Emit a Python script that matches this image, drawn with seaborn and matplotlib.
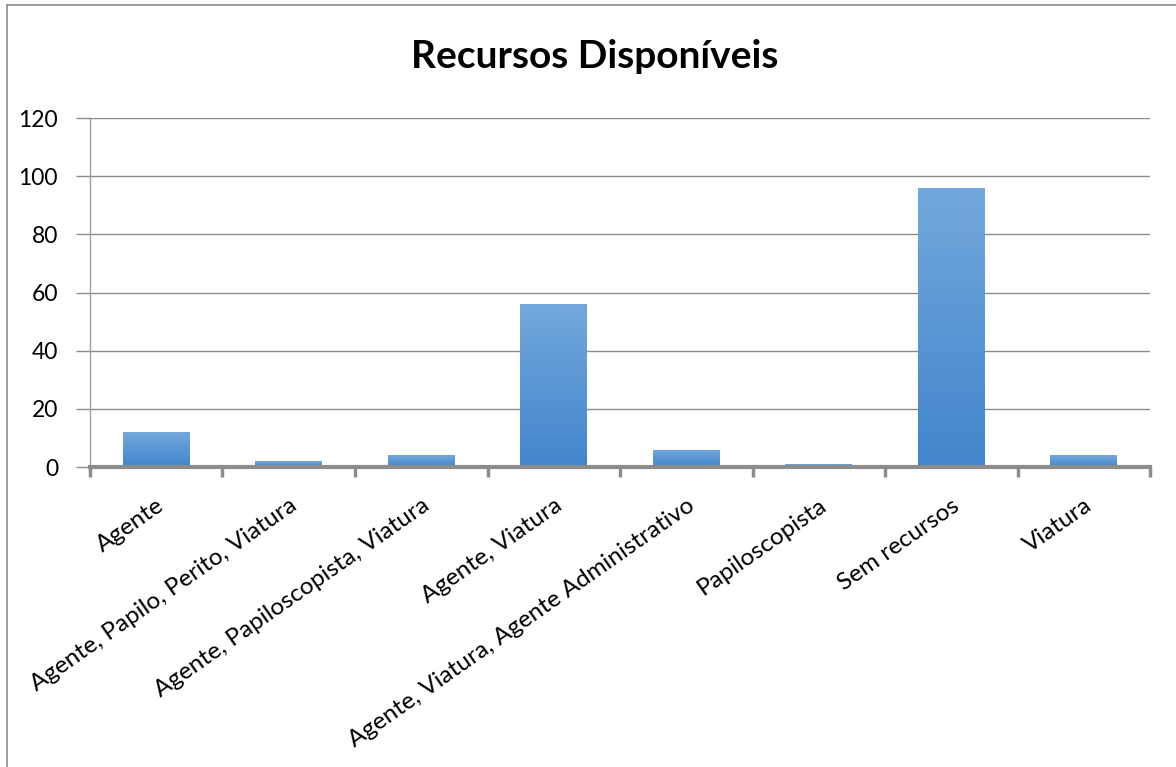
import matplotlib
matplotlib.use("Agg")
import matplotlib.pyplot as plt
import seaborn as sns
import numpy as np
import pandas as pd
from matplotlib.lines import Line2D
from matplotlib.colors import LinearSegmentedColormap

# Data
categorias = [
    "Agente",
    "Agente, Papilo, Perito, Viatura",
    "Agente, Papiloscopista, Viatura",
    "Agente, Viatura",
    "Agente, Viatura, Agente Administrativo",
    "Papiloscopista",
    "Sem recursos",
    "Viatura",
]
valores = [12, 2, 4, 56, 6, 1, 96, 4]
yticks = [0, 20, 40, 60, 80, 100, 120]

df = pd.DataFrame({"Recurso": categorias, "Qtd": valores})

sns.set_style("white")
plt.rcParams["font.family"] = ["Lato", "DejaVu Sans"]
plt.rcParams["text.color"] = "black"
plt.rcParams["xtick.color"] = "black"
plt.rcParams["ytick.color"] = "black"

fig = plt.figure(figsize=(11.76, 7.67), dpi=100)
ax = fig.add_axes([0.0765, 0.391, 0.9015, 0.455])

sns.barplot(data=df, x="Recurso", y="Qtd", color="#5396d5", width=0.505,
            saturation=1, ax=ax, zorder=3)

ax.set_ylim(0, 120)
ax.set_xlim(-0.5, len(categorias) - 0.5)

# vertical gradient inside each bar (light on top, darker at the base)
grad = LinearSegmentedColormap.from_list("barra", ["#4285cc", "#73a8dc"])
for p in ax.patches:
    x0, y0 = p.get_x(), p.get_y()
    w, h = p.get_width(), p.get_height()
    if h <= 0:
        continue
    p.set_edgecolor("none")
    img = ax.imshow(np.linspace(0, 1, 100).reshape(-1, 1), cmap=grad,
                    origin="lower", aspect="auto",
                    extent=[x0, x0 + w, y0, y0 + h], zorder=3.5)
    img.set_clip_path(p)
ax.set_xlim(-0.5, len(categorias) - 0.5)
ax.set_ylim(0, 120)
ax.set_aspect("auto")

ax.set_yticks(yticks)
ax.set_yticklabels([str(v) for v in yticks], fontsize=16.5)
ax.yaxis.grid(True, color="#8c8c8c", linewidth=1, zorder=0)
ax.set_xlabel("")
ax.set_ylabel("")

# category labels, rotated like the original
ax.set_xticks(range(len(categorias)))
ax.set_xticklabels(categorias, rotation=35, ha="right", va="top",
                   rotation_mode="anchor", fontsize=17.5)
ax.tick_params(axis="x", which="major", length=0, pad=20, bottom=True)
ax.set_xticks([i - 0.5 for i in range(len(categorias) + 1)], minor=True)
ax.tick_params(axis="x", which="minor", length=7, width=2.5,
               color="#8c8c8c", bottom=True)
ax.tick_params(axis="y", length=10, width=1, color="#8c8c8c", left=True,
               pad=13, labelcolor="black")
ax.tick_params(axis="x", labelcolor="black")

for side in ["top", "right"]:
    ax.spines[side].set_visible(False)
ax.spines["left"].set_color("#a0a0a0")
ax.spines["left"].set_linewidth(1)
ax.spines["bottom"].set_color("#8c8c8c")
ax.spines["bottom"].set_linewidth(3)
ax.spines["bottom"].set_zorder(5)

fig.text(595 / 1176, 1 - 57 / 767, "Recursos Disponíveis", fontsize=28,
         fontweight="bold", ha="center", va="center", color="black")

# chart frame (left and top edges visible)
fig.add_artist(Line2D([7 / 1176, 7 / 1176], [0, 1 - 5 / 767], color="#8c8c8c",
                      linewidth=1.2, transform=fig.transFigure))
fig.add_artist(Line2D([7 / 1176, 1], [1 - 5 / 767, 1 - 5 / 767], color="#8c8c8c",
                      linewidth=1.2, transform=fig.transFigure))

fig.savefig("out.png", dpi=100)
